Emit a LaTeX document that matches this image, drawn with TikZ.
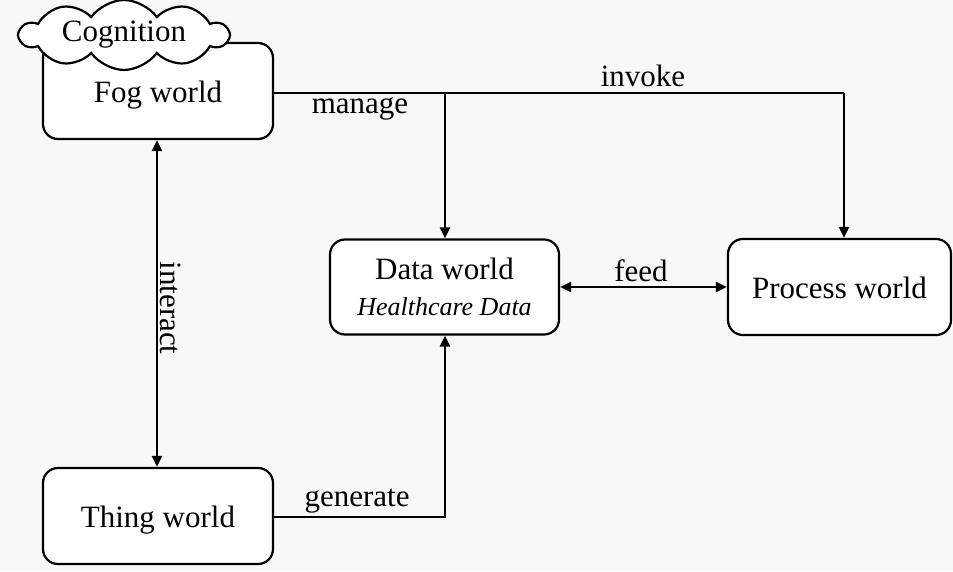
\documentclass[tikz,border=0pt]{standalone}
\usepackage{fontspec}
\setmainfont{Liberation Serif}
\usetikzlibrary{arrows.meta,shapes.symbols}
\definecolor{bg}{HTML}{F8F8F8}
\begin{document}
\begin{tikzpicture}[x=1pt,y=-1pt,
  world/.style={draw,line width=2.2pt,rounded corners=15pt,fill=white,inner sep=0pt,font=\fontsize{31}{35}\selectfont,text height=22pt,text depth=0pt},
  conn/.style={line width=2.2pt},
  tip/.style={-{Triangle[length=11pt,width=10pt]}},
  dtip/.style={{Triangle[length=11pt,width=10pt]}-{Triangle[length=11pt,width=10pt]}},
  lbl/.style={font=\fontsize{31}{35}\selectfont,inner sep=0pt}]
\fill[bg] (0,0) rectangle (953,571);
\useasboundingbox (0,0) rectangle (953,571);
\node[world,minimum width=230pt,minimum height=96pt] (fog) at (158,91) {Fog world};
\node[world,text height=,text depth=,minimum width=229pt,minimum height=95pt,align=center,font=\fontsize{31}{32}\selectfont] (data) at (444.5,287) {Data world\\[4pt]{\itshape\fontsize{26}{32}\selectfont Healthcare Data}};
\node[world,minimum width=223pt,minimum height=96pt] (proc) at (839.5,287) {Process world};
\node[world,minimum width=230pt,minimum height=96pt] (thing) at (158,516) {Thing world};
\node[cloud,cloud puffs=10,cloud puff arc=110,draw,line width=2.2pt,fill=white,minimum width=208pt,minimum height=50pt,inner sep=0pt,aspect=4,font=\fontsize{31}{35}\selectfont] (cog) at (124,35) {Cognition};
% manage / invoke
\coordinate (j1) at (445,93);
\coordinate (j2) at (844,93);
\draw[conn] (fog.east |- j1) -- (j2);
\draw[conn,tip] (j1) -- (data.north -| j1);
\draw[conn,tip] (j2) -- (proc.north -| j2);
\node[lbl] (lmanage) at (360,109) {manage};
\node[lbl] (linvoke) at (643,76) {invoke};
% interact
\draw[conn,dtip] (fog.south -| 157,0) -- (thing.north -| 157,0);
\node[lbl,rotate=-90] (linteract) at (170.5,308) {interact};
% feed
\draw[conn,dtip] (data.east |- 0,287) -- (proc.west |- 0,287);
\node[lbl] (lfeed) at (641,271) {feed};
% generate
\coordinate (j3) at (445,517);
\draw[conn,tip] (thing.east |- j3) -- (j3) -- (data.south -| j3);
\node[lbl] (lgen) at (357,501) {generate};
\end{tikzpicture}
\end{document}
